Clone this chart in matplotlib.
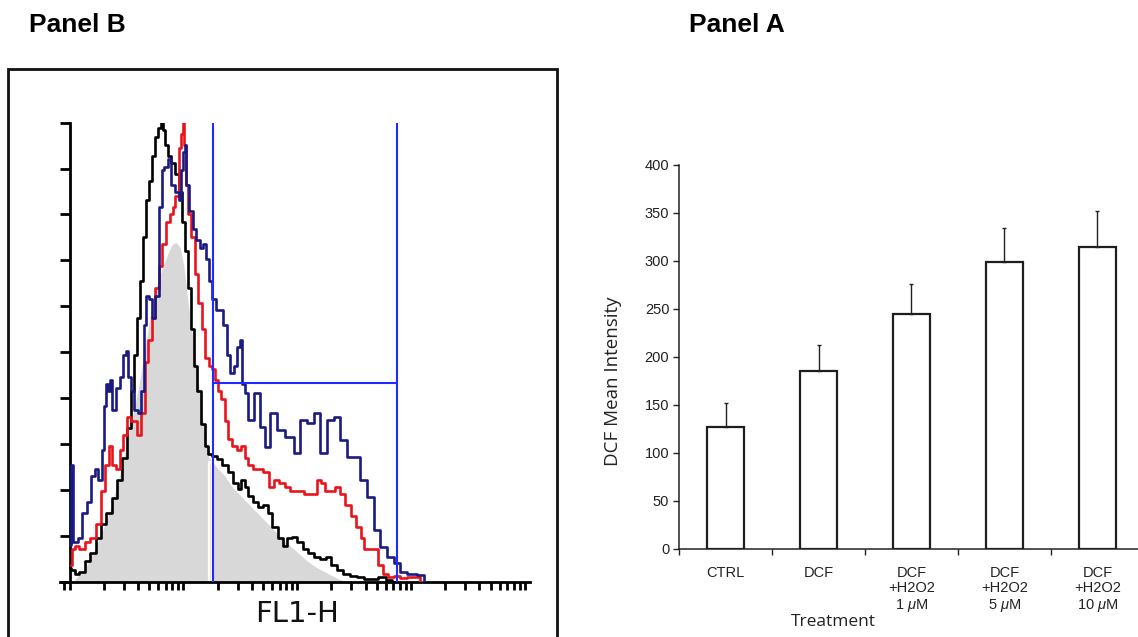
import numpy as np
import matplotlib
matplotlib.use("Agg")
import matplotlib.pyplot as plt
from matplotlib.patches import Rectangle
from matplotlib.ticker import LogLocator, NullFormatter, FixedLocator

plt.rcParams['font.family'] = ['Liberation Sans', 'DejaVu Sans']
plt.rcParams['mathtext.fontset'] = 'custom'
plt.rcParams['mathtext.rm'] = 'Liberation Sans'
plt.rcParams['mathtext.it'] = 'Liberation Sans:italic'

# ---- Panel B : FL1-H histograms (x in log10 of channel, y in counts) ----
grey_log = [0.047, 0.141, 0.235, 0.329, 0.424, 0.518, 0.612, 0.675, 0.737, 0.800,
            0.847, 0.894, 0.932, 0.973, 1.004, 1.035, 1.067, 1.098, 1.129, 1.161,
            1.192, 1.224, 1.302, 1.365, 1.427, 1.522, 1.616, 1.710, 1.804, 1.898,
            1.992, 2.086, 2.180, 2.275, 2.369, 2.463]
grey_cnt = [0.6, 3.0, 7.9, 13.5, 21.5, 31.9, 43.1, 52.7, 62.3, 67.1,
            70.4, 73.2, 74.0, 72.8, 68.8, 62.3, 55.9, 50.3, 43.9, 37.5,
            31.1, 27.1, 24.7, 23.1, 20.7, 18.3, 15.9, 13.5, 11.1, 8.7,
            6.7, 4.6, 3.0, 1.8, 0.6, 0.0]

black_log = [0.000, 0.031, 0.063, 0.110, 0.157, 0.204, 0.251, 0.298, 0.345, 0.392,
             0.439, 0.486, 0.524, 0.555, 0.580, 0.605, 0.627, 0.659, 0.684, 0.706,
             0.737, 0.769, 0.791, 0.809, 0.831, 0.853, 0.878, 0.910, 0.941, 0.973,
             1.004, 1.026, 1.051, 1.076, 1.107, 1.139, 1.170, 1.202, 1.239, 1.271,
             1.318, 1.365, 1.412, 1.459, 1.496, 1.522, 1.553, 1.584, 1.631, 1.678,
             1.725, 1.757, 1.804, 1.851, 1.898, 1.929, 1.976, 2.024, 2.071, 2.118,
             2.180, 2.227, 2.275, 2.322, 2.369, 2.431, 2.494, 2.557, 2.620, 2.682,
             2.745, 2.808, 2.855]
black_cnt = [3.0, 2.6, 1.8, 2.2, 4.6, 6.3, 9.5, 12.7, 15.1, 18.3,
             22.3, 27.1, 33.5, 41.5, 49.5, 57.5, 65.5, 75.2, 83.2, 87.2,
             92.8, 96.8, 98.8, 100.0, 98.4, 95.2, 92.8, 91.2, 88.8, 84.8,
             78.4, 72.0, 63.9, 55.1, 47.1, 41.5, 34.3, 29.5, 27.9, 27.5,
             26.7, 25.5, 23.9, 21.5, 20.3, 22.3, 20.7, 18.7, 17.5, 16.3,
             16.7, 15.1, 11.9, 9.5, 7.9, 9.5, 9.9, 8.7, 7.1, 6.3,
             5.4, 5.0, 5.4, 3.8, 2.6, 1.8, 1.4, 1.0, 0.6, 0.6,
             1.0, 0.5, 0.0]

red_log = [0.016, 0.031, 0.063, 0.110, 0.157, 0.204, 0.251, 0.298, 0.329, 0.361,
           0.392, 0.424, 0.455, 0.486, 0.518, 0.565, 0.612, 0.643, 0.675, 0.706,
           0.737, 0.769, 0.800, 0.831, 0.863, 0.894, 0.919, 0.941, 0.973, 0.988,
           1.004, 1.013, 1.026, 1.051, 1.082, 1.114, 1.145, 1.176, 1.208, 1.239,
           1.271, 1.286, 1.318, 1.349, 1.380, 1.412, 1.443, 1.490, 1.522, 1.553,
           1.584, 1.631, 1.678, 1.725, 1.773, 1.820, 1.867, 1.914, 1.961, 2.024,
           2.086, 2.149, 2.196, 2.227, 2.259, 2.306, 2.353, 2.400, 2.447, 2.494,
           2.541, 2.573, 2.604, 2.651, 2.698, 2.729, 2.776, 2.824, 2.871, 2.933,
           2.996, 3.059, 3.106]
red_cnt = [3.8, 7.1, 7.9, 7.1, 8.7, 9.5, 12.7, 19.9, 25.5, 29.5,
           25.5, 24.7, 28.7, 31.9, 35.9, 35.1, 31.9, 36.7, 47.9, 52.7,
           57.5, 63.9, 68.8, 73.6, 78.4, 80.0, 81.6, 84.0, 94.4, 97.6,
           100.0, 95.2, 86.4, 80.0, 75.2, 67.1, 60.7, 55.1, 48.7, 47.1,
           46.3, 43.9, 41.5, 39.9, 35.1, 31.1, 29.5, 28.7, 29.5, 27.1,
           25.5, 24.7, 24.7, 23.9, 20.7, 22.3, 21.5, 20.7, 19.9, 19.9,
           19.1, 19.1, 22.3, 21.5, 19.9, 19.9, 20.7, 19.1, 16.7, 14.3,
           11.9, 9.5, 7.1, 7.1, 7.1, 3.8, 1.8, 1.0, 1.4, 0.8,
           1.0, 1.0, 0.0]

navy_log = [0.000, 0.025, 0.040, 0.047, 0.094, 0.125, 0.173, 0.204, 0.235, 0.267,
            0.298, 0.314, 0.329, 0.345, 0.361, 0.392, 0.424, 0.455, 0.486, 0.502,
            0.524, 0.549, 0.580, 0.618, 0.643, 0.659, 0.681, 0.706, 0.737, 0.769,
            0.800, 0.816, 0.847, 0.878, 0.910, 0.941, 0.973, 0.988, 1.004, 1.020,
            1.035, 1.067, 1.098, 1.129, 1.161, 1.183, 1.208, 1.239, 1.271, 1.302,
            1.333, 1.365, 1.396, 1.427, 1.459, 1.490, 1.512, 1.522, 1.559, 1.585,
            1.647, 1.699, 1.743, 1.787, 1.849, 1.937, 1.998, 2.051, 2.113, 2.174,
            2.227, 2.288, 2.350, 2.402, 2.464, 2.526, 2.579, 2.640, 2.702, 2.754,
            2.816, 2.877, 2.930, 3.000, 3.106, 3.128]
navy_cnt = [8.0, 25.5, 8.7, 8.7, 9.5, 15.1, 17.5, 23.1, 24.7, 22.3,
            28.7, 38.3, 43.1, 41.5, 43.9, 37.5, 42.3, 44.7, 49.5, 50.3,
            44.7, 41.5, 37.5, 36.7, 41.5, 55.9, 62.3, 61.5, 57.5, 62.3,
            81.6, 89.6, 90.4, 92.0, 86.4, 84.8, 83.2, 89.6, 93.6, 95.2,
            86.4, 80.8, 76.8, 74.4, 72.8, 73.6, 70.4, 65.5, 61.5, 59.1,
            59.1, 55.9, 49.5, 45.5, 47.1, 51.1, 52.7, 43.1, 41.1, 35.3,
            41.1, 33.7, 29.4, 36.8, 33.1, 31.6, 28.1, 35.3, 34.6, 36.8,
            28.1, 35.3, 35.9, 30.9, 27.2, 27.2, 22.2, 18.5, 11.3, 7.6,
            5.4, 4.1, 2.2, 1.8, 1.5, 0.0]

gate_left = 18.2
gate_right = 754
gate_level = 43.3
gate_top = 100
grey_marker = 17.0

# ---- Panel A : bar chart ----
treatments = ['CTRL', 'DCF', 'DCF\n+H2O2\n1 $\\mu$M', 'DCF\n+H2O2\n5 $\\mu$M', 'DCF\n+H2O2\n10 $\\mu$M']
dcf_mean = [127, 185, 245, 299, 315]
dcf_err = [25, 28, 31, 35, 37]

W, H = 1138, 637
fig = plt.figure(figsize=(W / 100, H / 100), dpi=100)

def rect(l, t, r, b):
    return [l / W, 1 - b / H, (r - l) / W, (b - t) / H]

# frame around panel B
fig.add_artist(Rectangle((8 / W, -0.05), (557 - 8) / W, 0.05 + 1 - 69 / H,
                         transform=fig.transFigure, fill=False, lw=2.0,
                         ec='#111111', clip_on=False))

ax1 = fig.add_axes(rect(60, 122.6, 530, 582))
ax1.set_xscale('log')
ax1.set_xlim(10 ** -0.084, 10 ** 4.046)
ax1.set_ylim(0, 100)

ax1.fill_between(10 ** np.array(grey_log), grey_cnt, color='#d8d8d8', lw=0, zorder=1)
ax1.plot([grey_marker, grey_marker], [0, 26], color='white', lw=3, zorder=1.5)
ax1.plot([grey_marker, grey_marker], [0, 26], color='#f2ecb4', lw=1, zorder=1.6)
ax1.plot(10 ** np.array(black_log), black_cnt, color='black', lw=1.9,
         drawstyle='steps-mid', zorder=2)
ax1.plot(10 ** np.array(red_log), red_cnt, color='#e8141c', lw=1.9,
         drawstyle='steps-mid', zorder=3)
ax1.plot(10 ** np.array(navy_log), navy_cnt, color='#1a1a85', lw=1.9,
         drawstyle='steps-mid', zorder=4)

# gate marker
ax1.plot([gate_left, gate_left], [0, gate_top], color='#1f2bff', lw=1.5, zorder=5)
ax1.plot([gate_right, gate_right], [0, gate_top], color='#1f2bff', lw=1.5, zorder=5)
ax1.plot([gate_left, gate_right], [gate_level, gate_level], color='#1f2bff', lw=1.5, zorder=5)

for s in ['top', 'right']:
    ax1.spines[s].set_visible(False)
ax1.spines['left'].set_position(('data', 1))
ax1.spines['left'].set_bounds(0, 100)
ax1.spines['left'].set_linewidth(2)
ax1.spines['bottom'].set_linewidth(2)
ax1.xaxis.set_major_locator(LogLocator(base=10, numticks=10))
ax1.xaxis.set_minor_locator(LogLocator(base=10, subs=np.arange(2, 10), numticks=20))
ax1.xaxis.set_major_formatter(NullFormatter())
ax1.xaxis.set_minor_formatter(NullFormatter())
ax1.tick_params(axis='x', which='both', direction='out', length=6, width=2, color='black')
ax1.yaxis.set_major_locator(FixedLocator(np.arange(0, 101, 10)))
ax1.yaxis.set_major_formatter(NullFormatter())
ax1.tick_params(axis='y', direction='out', length=7.5, width=2, color='black')
ax1.patch.set_alpha(0)

fig.text(297 / W, 1 - 614 / H, 'FL1-H', family='DejaVu Sans', fontsize=21,
         ha='center', va='center', color='#111111')

# ---- bar chart ----
ax2 = fig.add_axes(rect(679, 165, 1144, 549))
x = np.arange(len(treatments))
ax2.bar(x, dcf_mean, width=0.4, color='white', edgecolor='#1e1e1e', lw=1.6, zorder=2)
ax2.errorbar(x, dcf_mean, yerr=[[0] * len(x), dcf_err], fmt='none', ecolor='#222222',
             elinewidth=1.0, capsize=1.2, capthick=1.0, zorder=3)
ax2.set_xlim(-0.5, 4.5)
ax2.set_ylim(0, 400)
for s in ['top', 'right']:
    ax2.spines[s].set_visible(False)
ax2.spines['left'].set_linewidth(1.1)
ax2.spines['bottom'].set_linewidth(1.1)
ax2.spines['left'].set_color('#222222')
ax2.spines['bottom'].set_color('#222222')
ax2.set_yticks(np.arange(0, 401, 50))
ax2.tick_params(axis='y', direction='out', length=4, width=1, color='#222222',
                labelsize=10.5, labelcolor='#222222', pad=3)
ax2.set_xticks([-0.5, 0.5, 1.5, 2.5, 3.5])
ax2.set_xticklabels([])
ax2.set_xticks(x, minor=True)
ax2.set_xticklabels(treatments, minor=True, linespacing=1.15)
ax2.tick_params(axis='x', which='major', direction='out', length=4, width=1, color='#222222')
ax2.tick_params(axis='x', which='minor', length=0, labelsize=10.5, labelcolor='#222222', pad=12)
ax2.set_ylabel('DCF Mean Intensity', family='Open Sans', fontsize=13.5, color='#222222')
ax2.yaxis.set_label_coords(-0.123, 0.4375)
ax2.set_xlabel('Treatment', family='Open Sans', fontsize=12.5, color='#222222')
ax2.xaxis.label.set_va('center')
ax2.xaxis.set_label_coords(0.333, -0.190)

fig.text(29 / W, 1 - 25 / H, 'Panel B', fontsize=19, fontweight='bold', ha='left', va='center')
fig.text(689 / W, 1 - 25 / H, 'Panel A', fontsize=19, fontweight='bold', ha='left', va='center')

fig.savefig('out.png', dpi=100)
